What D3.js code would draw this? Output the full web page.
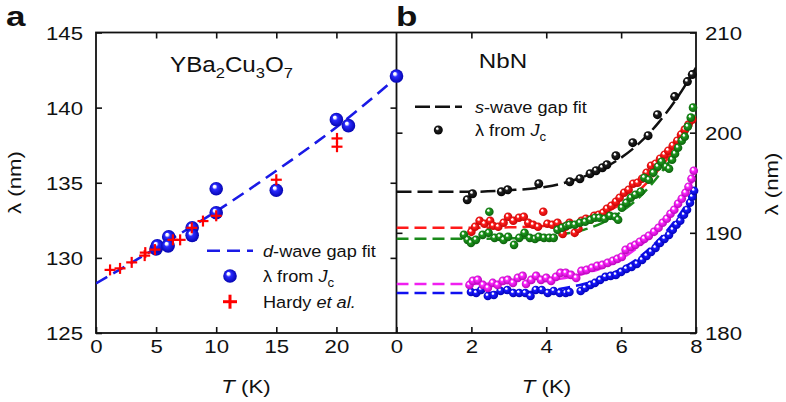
<!DOCTYPE html>
<html><head><meta charset="utf-8">
<script src="https://cdn.jsdelivr.net/npm/d3@7/dist/d3.min.js"></script>
<style>
html,body{margin:0;padding:0;background:#fff;}
text{font-family:"Liberation Sans",Arial,Helvetica,sans-serif;fill:#111;}
</style></head>
<body><svg id="c" width="786" height="402"></svg>
<script>
// ---------- Panel a data (YBa2Cu3O7) ----------
const aTicksX = [0,5,10,15,20];
const aTicksY = [125,130,135,140,145];
const aFitT = [0,5,10,15,20,25];
const aFitL = [128.3,130.65,133.1,135.8,138.7,142.0];
const aJcT = [5.0,5.1,6.05,6.0,8.0,8.0,10.0,10.0,15.0,20.0,21.0,25.0];
const aJcL = [130.6,130.8,131.4,130.8,132.0,131.5,133.0,134.6,134.5,139.2,138.8,142.1];
const aHardyT = [1.17,2.0,2.97,4.05,4.1,4.9,6.4,7.0,7.97,8.9,10.0,15.0,20.05,20.05];
const aHardyL = [129.2,129.3,129.7,130.15,130.35,130.55,131.2,131.2,132.0,132.45,132.8,135.2,137.95,137.4];

// ---------- Panel b data (NbN) ----------
const bTicksX = [0,2,4,6,8];
const bTicksY = [180,190,200,210];
const bFitT = [0,1,2,3,4,4.5,5,5.5,6,6.5,7,7.5,8];
const bFitBlack   = [194.1,194.1,194.1,194.25,194.6,195.0,195.6,196.4,197.5,199.0,201.0,203.5,206.5];
const bFitRed     = [190.5,190.5,190.5,190.55,190.7,190.9,191.3,191.9,192.9,194.3,196.3,198.7,201.6];
const bFitGreen   = [189.4,189.4,189.4,189.45,189.6,189.9,190.3,191.0,192.1,193.6,195.7,198.3,201.8];
const bFitMagenta = [184.9,184.9,184.9,185.0,185.2,185.5,185.9,186.5,187.4,188.7,190.4,192.6,195.8];
const bFitBlue    = [184.0,184.0,184.0,184.05,184.2,184.5,184.9,185.5,186.4,187.6,189.3,191.5,194.4];

const blackT = [1.89,2.03,2.80,2.97,3.80,4.63,4.90,5.17,5.33,5.50,5.62,5.86,6.31,6.72,6.97,7.43,7.77,7.90];
const blackL = [193.3,193.9,194.1,194.3,194.9,195.1,195.4,195.9,196.2,196.5,196.8,197.7,199.0,199.7,201.8,203.6,205.1,205.8];

const redT = [2.00,2.10,2.22,2.35,2.50,2.58,2.72,2.86,2.98,3.12,3.27,3.40,3.52,3.65,3.78,3.92,4.03,4.16,4.30,4.44,4.52,4.62,4.76,4.86,4.94,5.06,5.18,5.28,5.40,5.52,5.62,5.74,5.86,5.96,6.08,6.20,6.32,6.44,6.56,6.68,6.80,6.92,7.04,7.16,7.26,7.38,7.50,7.60,7.70,7.80,7.90];
const redL = [190.1,190.6,191.2,190.9,191.2,190.7,190.6,191.0,191.6,191.2,191.5,191.6,191.0,190.8,190.6,192.1,190.9,190.8,191.0,189.9,190.6,191.0,190.0,190.4,191.2,191.4,191.3,191.7,191.8,192.0,192.4,192.7,193.1,193.5,194.0,194.3,194.9,195.0,195.4,196.0,196.7,196.9,197.4,197.8,198.2,198.7,199.2,199.8,200.3,200.8,201.3];

const greenT = [1.80,1.90,1.99,2.12,2.30,2.48,2.46,2.62,2.76,2.86,2.98,3.14,3.28,3.42,3.56,3.70,3.80,3.94,4.08,4.20,4.30,4.42,4.54,4.62,4.76,4.90,5.04,5.18,5.30,5.42,5.56,5.70,5.84,5.92,6.02,6.14,6.26,6.38,6.52,6.62,6.74,6.86,6.98,7.08,7.20,7.28,7.36,7.44,7.52,7.62,7.70,7.78,7.86,7.92];
const greenL = [189.8,189.3,189.0,189.3,189.8,192.1,190.0,189.5,189.6,189.3,189.6,188.8,189.5,190.0,189.5,189.4,189.6,189.5,189.5,189.5,190.3,190.5,190.7,190.8,190.8,191.0,191.1,191.3,191.5,191.5,191.4,191.7,191.6,191.3,192.5,193.0,193.5,193.8,194.1,195.5,195.3,196.0,196.6,197.1,196.6,196.4,197.3,197.9,198.5,199.2,199.6,200.6,201.5,202.5];

const magentaT = [1.95,2.04,2.17,2.31,2.44,2.57,2.70,2.84,2.97,3.11,3.24,3.37,3.46,3.60,3.73,3.86,4.00,4.13,4.26,4.38,4.52,4.66,4.80,4.94,5.08,5.22,5.36,5.50,5.64,5.78,5.90,6.02,6.12,6.26,6.38,6.50,6.62,6.74,6.88,7.00,7.11,7.22,7.32,7.42,7.52,7.62,7.72,7.80,7.88,7.94];
const magentaL = [184.8,185.2,185.3,184.8,184.5,185.0,184.8,185.2,185.3,185.0,185.5,185.7,184.9,185.3,185.7,185.3,185.5,185.2,185.6,186.0,186.0,185.8,185.5,186.2,186.3,186.5,186.7,186.8,187.0,187.2,187.4,187.6,188.3,188.6,188.8,189.1,189.4,189.7,190.1,190.5,191.0,191.4,191.9,192.3,192.9,193.4,194.0,194.6,195.4,196.2];

const blueT = [1.99,2.13,2.26,2.44,2.60,2.78,2.96,3.12,3.28,3.44,3.58,3.72,3.88,4.04,4.20,4.36,4.52,4.62,4.92,5.04,5.18,5.30,5.44,5.58,5.72,5.86,6.00,6.14,6.28,6.42,6.56,6.68,6.80,6.92,7.04,7.16,7.28,7.38,7.48,7.58,7.68,7.76,7.84,7.90,7.95];
const blueL = [184.1,184.0,184.3,183.7,183.8,184.2,184.3,184.0,184.0,184.0,183.7,184.3,184.3,184.0,184.2,184.0,184.0,184.1,184.2,184.5,184.8,185.0,185.3,185.6,185.7,185.8,186.1,186.4,186.6,186.9,187.3,187.7,188.1,188.5,189.0,189.4,189.8,190.3,190.8,191.2,191.8,192.3,193.0,193.6,194.2];

// ---------- drawing ----------
const svg = d3.select("#c");
const SX = 1.2; // horizontal stretch of reference typography
const defs = svg.append("defs");
function grad(id, col, dark){
  const g = defs.append("radialGradient").attr("id", id)
    .attr("cx","50%").attr("cy","50%").attr("r","55%").attr("fx","35%").attr("fy","30%");
  g.append("stop").attr("offset","0%").attr("stop-color","#fff");
  g.append("stop").attr("offset","16%").attr("stop-color","#fff");
  g.append("stop").attr("offset","36%").attr("stop-color",col);
  g.append("stop").attr("offset","100%").attr("stop-color",dark);
}
grad("gBlue","#1a1aff","#0000b0");
grad("gRed","#ff2020","#c00000");
grad("gGreen","#1f9a1f","#0a5a0a");
grad("gMag","#ff2aff","#b000b0");
grad("gBlack","#222","#000");
grad("gBlueA","#2a2aff","#0000a8");

const xa = d3.scaleLinear().domain([0,25]).range([96,396.5]);
const ya = d3.scaleLinear().domain([125,145]).range([333,32.5]);
const xb = d3.scaleLinear().domain([0,8]).range([396.5,696]);
const yb = d3.scaleLinear().domain([180,210]).range([333,32.5]);

const TICK = 18.5;
function styleAxis(g){
  g.select(".domain").remove();
  g.selectAll(".tick line").attr("stroke","#111").attr("stroke-width",1.6);
  g.selectAll("text").style("font-size",TICK+"px").attr("fill","#111");
}
// Panel a axes
svg.append("g").attr("transform","translate(96,0)")
  .call(d3.axisLeft(ya).tickValues(aTicksY).tickSize(-6).tickPadding(0))
  .call(styleAxis)
  .call(g=>g.selectAll("text").attr("x",-13/SX).attr("dy","0.36em").attr("transform",`scale(${SX},1)`));
svg.append("g").attr("transform","translate(396.5,0)")
  .call(d3.axisRight(ya).tickValues([130,135,140]).tickSize(-6).tickFormat(""))
  .call(styleAxis);
svg.append("g").attr("transform","translate(0,32.5)")
  .call(d3.axisTop(xa).tickValues([5,10,15,20]).tickSize(-6).tickFormat(""))
  .call(styleAxis);
svg.append("g").attr("transform","translate(0,333)")
  .call(d3.axisBottom(xa).tickValues(aTicksX).tickSize(-6))
  .call(styleAxis)
  .call(g=>g.selectAll("text").attr("y",20.5).attr("dy",null).attr("transform",`scale(${SX},1)`));
// Panel b axes
svg.append("g").attr("transform","translate(696,0)")
  .call(d3.axisRight(yb).tickValues(bTicksY).tickSize(-6).tickPadding(0))
  .call(styleAxis)
  .call(g=>g.selectAll("text").attr("x",9/SX).attr("dy","0.36em").attr("transform",`scale(${SX},1)`));
svg.append("g").attr("transform","translate(396.5,0)")
  .call(d3.axisLeft(yb).tickValues([190,200]).tickSize(-6).tickFormat(""))
  .call(styleAxis);
svg.append("g").attr("transform","translate(0,32.5)")
  .call(d3.axisTop(xb).tickValues([2,4,6]).tickSize(-6).tickFormat(""))
  .call(styleAxis);
svg.append("g").attr("transform","translate(0,333)")
  .call(d3.axisBottom(xb).tickValues(bTicksX).tickSize(-6))
  .call(styleAxis)
  .call(g=>g.selectAll("text").attr("y",20.5).attr("dy",null).attr("transform",`scale(${SX},1)`));

// frames
svg.append("rect").attr("x",96).attr("y",32.5).attr("width",600).attr("height",300.5)
  .attr("fill","none").attr("stroke","#111").attr("stroke-width",1.8);
svg.append("line").attr("x1",396.5).attr("x2",396.5).attr("y1",32.5).attr("y2",333)
  .attr("stroke","#111").attr("stroke-width",1.8);

// clip paths
defs.append("clipPath").attr("id","clipA").append("rect").attr("x",96).attr("y",32.5).attr("width",300.5).attr("height",300.5);
defs.append("clipPath").attr("id","clipB").append("rect").attr("x",396.5).attr("y",32.5).attr("width",299.5).attr("height",300.5);

// Panel a fit
const lineA = d3.line().x(d=>xa(d[0])).y(d=>ya(d[1])).curve(d3.curveMonotoneX);
svg.append("path").attr("clip-path","url(#clipA)")
  .attr("d", lineA(aFitT.map((t,i)=>[t,aFitL[i]])))
  .attr("fill","none").attr("stroke","#1a1ae6").attr("stroke-width",2.6).attr("stroke-dasharray","13,7");

// Hardy crosses
const cross = (g,x,y,s,w)=>{
  g.append("line").attr("x1",x-s).attr("x2",x+s).attr("y1",y).attr("y2",y).attr("stroke","#ff0000").attr("stroke-width",w);
  g.append("line").attr("x1",x).attr("x2",x).attr("y1",y-s).attr("y2",y+s).attr("stroke","#ff0000").attr("stroke-width",w);
};
// Jc spheres (panel a)
const gA = svg.append("g");
gA.selectAll("circle").data(aJcT.map((t,i)=>[t,aJcL[i]])).join("circle")
  .attr("cx",d=>xa(d[0])).attr("cy",d=>ya(d[1])).attr("r",6.8).attr("fill","url(#gBlueA)");
const gH = svg.append("g");
aHardyT.forEach((t,i)=>cross(gH, xa(t), ya(aHardyL[i]), 5.5, 2.2));

// Panel b fits
const lineB = d3.line().x(d=>xb(d[0])).y(d=>yb(d[1])).curve(d3.curveMonotoneX);
const fits = [[bFitBlue,"#1010f0"],[bFitMagenta,"#f020f0"],[bFitGreen,"#1a8a1a"],[bFitRed,"#ff1a1a"],[bFitBlack,"#111"]];
fits.forEach(([arr,col])=>{
  svg.append("path").attr("clip-path","url(#clipB)")
    .attr("d", lineB(bFitT.map((t,i)=>[t,arr[i]])))
    .attr("fill","none").attr("stroke",col).attr("stroke-width",2.5)
    .attr("stroke-dasharray", col==="#111" ? "15,6" : "12,6");
});
// Panel b points
const series = [[blueT,blueL,"gBlue",4.3],[magentaT,magentaL,"gMag",4.3],[redT,redL,"gRed",4.3],[greenT,greenL,"gGreen",4.3],[blackT,blackL,"gBlack",4.5]];
series.forEach(([T,L,g,r])=>{
  svg.append("g").selectAll("circle").data(T.map((t,i)=>[t,L[i]])).join("circle")
    .attr("cx",d=>xb(d[0])).attr("cy",d=>yb(d[1])).attr("r",r).attr("fill",`url(#${g})`);
});

// ---------- text ----------
function txt(x,y,size,opts={}){
  const t = svg.append("text")
    .attr("transform",`translate(${x},${y})${opts.rot?` rotate(${opts.rot})`:""} scale(${opts.sx||SX},1)`)
    .style("font-size",size+"px");
  if(opts.anchor) t.attr("text-anchor",opts.anchor);
  if(opts.bold) t.style("font-weight","bold");
  return t;
}
// panel letters
txt(6,25.5,28,{bold:true,sx:1.25}).text("a");
txt(396,25.5,28,{bold:true,sx:1.25}).text("b");
// titles
{
  const t = txt(170,71.7,22,{sx:1.1});
  t.append("tspan").text("YBa");
  t.append("tspan").attr("dy",6).style("font-size","15px").text("2");
  t.append("tspan").attr("dy",-6).text("Cu");
  t.append("tspan").attr("dy",6).style("font-size","15px").text("3");
  t.append("tspan").attr("dy",-6).text("O");
  t.append("tspan").attr("dy",6).style("font-size","15px").text("7");
}
txt(503,68.3,21,{anchor:"middle",sx:1.15}).text("NbN");
// axis titles
[246,546.5].forEach(cx=>{
  const t = txt(cx,393,18.5,{anchor:"middle"});
  t.append("tspan").style("font-style","italic").text("T");
  t.append("tspan").text(" (K)");
});
txt(21,182.5,18.5,{anchor:"middle",rot:-90}).text("λ (nm)");
txt(778,184,18.5,{anchor:"middle",rot:-90}).text("λ (nm)");

// legend panel a
const LS = 16.5, LSX = 1.1;
svg.append("line").attr("x1",207).attr("x2",253).attr("y1",250.7).attr("y2",250.7)
  .attr("stroke","#1a1ae6").attr("stroke-width",2.6).attr("stroke-dasharray","13,7");
svg.append("circle").attr("cx",230).attr("cy",276).attr("r",6.8).attr("fill","url(#gBlueA)");
cross(svg,230,301.7,7,3);
{
  let t = txt(263,257,LS,{sx:LSX});
  t.append("tspan").style("font-style","italic").text("d");
  t.append("tspan").text("-wave gap fit");
  t = txt(263,282,LS,{sx:LSX});
  t.append("tspan").text("λ from ");
  t.append("tspan").style("font-style","italic").text("J");
  t.append("tspan").attr("dy",5).style("font-size","12px").text("c");
  t = txt(263,308,LS,{sx:LSX});
  t.append("tspan").text("Hardy ");
  t.append("tspan").style("font-style","italic").text("et al.");
}
// legend panel b
svg.append("line").attr("x1",415).attr("x2",462).attr("y1",106.7).attr("y2",106.7)
  .attr("stroke","#111").attr("stroke-width",2.5).attr("stroke-dasharray","15,5");
svg.append("circle").attr("cx",438.3).attr("cy",130).attr("r",4.5).attr("fill","url(#gBlack)");
{
  let t = txt(475,112.5,LS,{sx:LSX});
  t.append("tspan").style("font-style","italic").text("s");
  t.append("tspan").text("-wave gap fit");
  t = txt(475,135.5,LS,{sx:LSX});
  t.append("tspan").text("λ from ");
  t.append("tspan").style("font-style","italic").text("J");
  t.append("tspan").attr("dy",5).style("font-size","12px").text("c");
}
</script></body></html>
